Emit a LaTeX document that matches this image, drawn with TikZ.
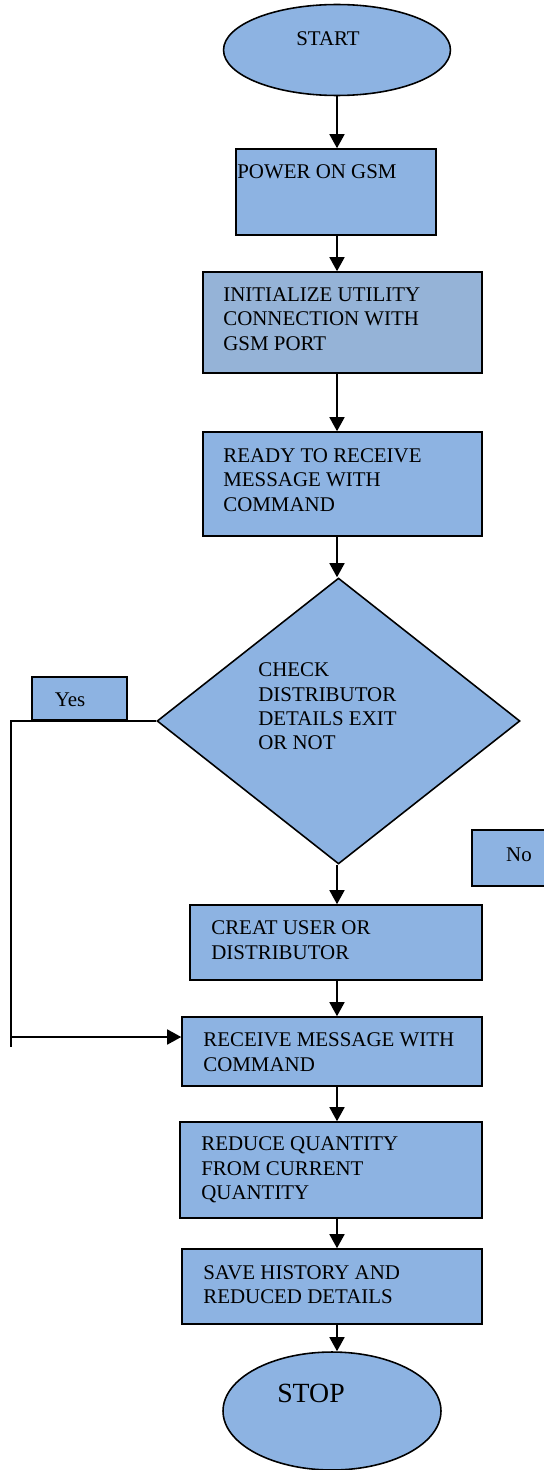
\documentclass[tikz,border=0pt]{standalone}
\usepackage{fontspec}
\setmainfont{Liberation Serif}
\usetikzlibrary{shapes.geometric,arrows.meta}

\definecolor{boxblue}{RGB}{141,179,226}
\definecolor{greyblue}{RGB}{149,179,215}

\tikzset{
  box/.style={draw, line width=0.9pt, fill=boxblue, rectangle, inner sep=0pt},
  term/.style={draw, line width=0.9pt, fill=boxblue, ellipse, inner sep=0pt},
  decision/.style={draw, line width=0.9pt, fill=boxblue, diamond, inner sep=0pt},
  lbl/.style={inner sep=0pt, align=left, font=\fontsize{11.9}{13.9}\selectfont},
  arr/.style={line width=1.1pt, -{Triangle[length=8pt, width=8.5pt]}},
  line/.style={line width=1.1pt}
}

\begin{document}
\begin{tikzpicture}[x=0.02cm, y=-0.02cm]
    \useasboundingbox (0,0) rectangle (544,1470);
    \coordinate (spine) at (337,0);

    % shapes
    \node[term, minimum width=4.54cm, minimum height=1.82cm] (start) at (337,50) {};
    \node[box, minimum width=4cm, minimum height=1.72cm] (power) at (336,192) {};
    \node[box, fill=greyblue, minimum width=5.58cm, minimum height=2.02cm] (init) at (342.5,322.5) {};
    \node[box, minimum width=5.58cm, minimum height=2.08cm] (ready) at (342.5,484) {};
    \node[decision, minimum width=7.26cm, minimum height=5.72cm] (check) at (338.5,721) {};
    \node[box, minimum width=1.9cm, minimum height=0.86cm] (yes) at (79.5,698.5) {};
    \node[box, minimum width=1.6cm, minimum height=1.12cm] (no) at (512,858) {};
    \node[box, minimum width=5.84cm, minimum height=1.5cm] (creat) at (336,942.5) {};
    \node[box, minimum width=6cm, minimum height=1.38cm] (receive) at (332,1051.5) {};
    \node[box, minimum width=6.04cm, minimum height=1.92cm] (reduce) at (331,1170) {};
    \node[box, minimum width=6cm, minimum height=1.5cm] (save) at (332,1286.5) {};
    \node[term, minimum width=4.36cm, minimum height=2.36cm] (stop) at (332,1411) {};

    % texts
    \node[lbl] (startTxt) at (328,39) {START};
    \node[lbl, anchor=west] (powerTxt) at (237,172) {POWER ON GSM};
    \node[lbl, anchor=west] (initTxt) at (223,319) {INITIALIZE UTILITY\\CONNECTION WITH\\GSM PORT};
    \node[lbl, anchor=west] (readyTxt) at (223,480) {READY TO RECEIVE\\MESSAGE WITH\\COMMAND};
    \node[lbl, anchor=west] (checkTxt) at (258,706.5) {CHECK\\DISTRIBUTOR\\DETAILS EXIT\\OR NOT};
    \node[lbl] (yesTxt) at (70,700) {Yes};
    \node[lbl] (noTxt) at (519,855) {No};
    \node[lbl, anchor=west] (creatTxt) at (211,940) {CREAT USER OR\\DISTRIBUTOR};
    \node[lbl, anchor=west] (receiveTxt) at (203,1052) {RECEIVE MESSAGE WITH\\COMMAND};
    \node[lbl, anchor=west] (reduceTxt) at (201,1170) {REDUCE QUANTITY\\FROM CURRENT\\QUANTITY};
    \node[lbl, anchor=west] (saveTxt) at (203,1284.5) {SAVE HISTORY AND\\REDUCED DETAILS};
    \node[lbl, font=\fontsize{15.8}{18}\selectfont] (stopTxt) at (311,1393) {STOP};

    % flow
    \draw[arr] (start.south -| spine) -- (power.north -| spine);
    \draw[arr] (power.south -| spine) -- (init.north -| spine);
    \draw[arr] (init.south -| spine) -- (ready.north -| spine);
    \draw[arr] (ready.south -| spine) -- (check.north -| spine);
    \draw[arr] (check.south -| spine) -- (creat.north -| spine);
    \draw[arr] (creat.south -| spine) -- (receive.north -| spine);
    \draw[arr] (receive.south -| spine) -- (reduce.north -| spine);
    \draw[arr] (reduce.south -| spine) -- (save.north -| spine);
    \draw[arr] (save.south -| spine) -- (stop.north -| spine);

    % yes branch
    \coordinate (loopEnd) at (11,1047);
    \coordinate (loop) at (11,1037);
    \draw[line] (check.west) -| (loopEnd);
    \draw[arr] (loop) -- (loop -| receive.west);
\end{tikzpicture}
\end{document}
